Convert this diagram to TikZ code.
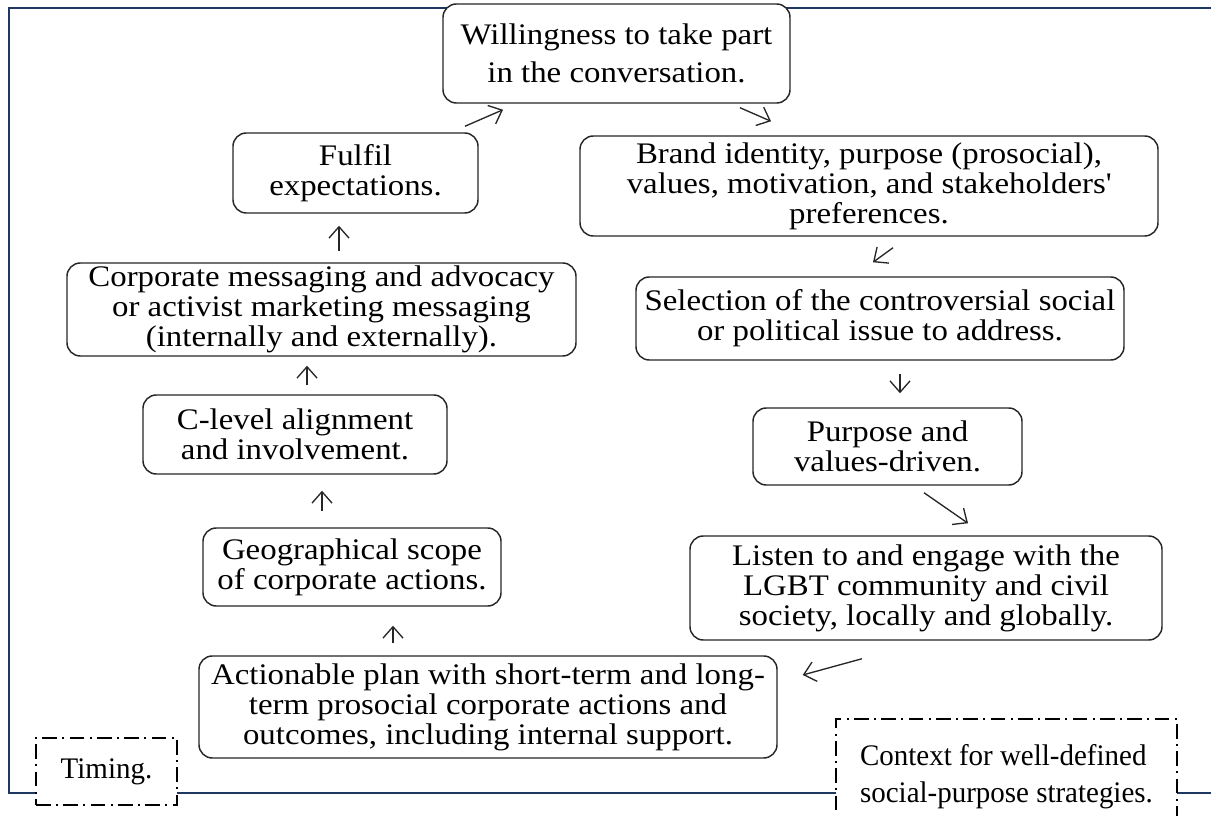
\documentclass[tikz,border=0pt]{standalone}
\usepackage{fontspec}
\setmainfont{Liberation Serif}[FakeStretch=1.1]
\newfontfamily\plainserif{Liberation Serif}[FakeStretch=0.97]
\usetikzlibrary{arrows.meta}
\definecolor{framenavy}{HTML}{1F3763}
\begin{document}
\begin{tikzpicture}[x=0.75pt,y=-0.75pt,
  wh/.style 2 args={minimum width=#1*0.75pt,minimum height=#2*0.75pt},
  txt/.style={font=\fontsize{22.4pt}{22.5pt}\selectfont},
  box/.style={draw=black!85,line width=1.1pt,rounded corners=10pt,fill=white,align=center,inner sep=0pt,txt},
  dbox/.style={draw=black,line width=1.1pt,dash pattern=on 11pt off 4pt on 1.5pt off 4pt,fill=white,inner sep=0pt,font=\plainserif\fontsize{22.4pt}{28pt}\selectfont},
  arr/.style={-{Straight Barb[length=8.5pt,width=15pt]},line width=1pt,draw=black!85}]
\useasboundingbox (0,0) rectangle (1211,816);
\clip (0,0) rectangle (1211,816);
\draw[framenavy,line width=2pt] (1220,8) -- (9,8) -- (9,793) -- (1220,793);

\node[box,wh={347}{99}] (will) at (616.5,53.5) {Willingness to take part\\[6pt]in the conversation.};
\node[box,wh={245}{80}] (fulfil) at (355.5,173) {Fulfil\\expectations.};
\node[box,wh={578}{100}] (brand) at (869,186) {Brand identity, purpose (prosocial),\\values, motivation, and stakeholders\textquotesingle\\preferences.};
\node[box,wh={509}{93}] (corp) at (321.5,309.5) {Corporate messaging and advocacy\\or activist marketing messaging\\(internally and externally).};
\node[box,wh={488}{83}] (sel) at (880,318.5) {Selection of the controversial social\\or political issue to address.};
\node[box,wh={304}{79}] (clevel) at (295,434.5) {C-level alignment\\and involvement.};
\node[box,wh={269}{77}] (purp) at (887.5,446.5) {Purpose and\\values-driven.};
\node[box,wh={298}{78}] (geo) at (352,567) {Geographical scope\\of corporate actions.};
\node[box,wh={472}{104}] (listen) at (926,588) {Listen to and engage with the\\LGBT community and civil\\society, locally and globally.};
\node[box,wh={578}{102}] (act) at (488,707) {Actionable plan with short-term and long-\\term prosocial corporate actions and\\outcomes, including internal support.};
\node[dbox,wh={141}{67}] (timing) at (106.5,771.5) {Timing.};
\node[dbox,wh={341}{116},align=left] (context) at (1006.5,777) {Context for well-defined\\social-purpose strategies.};

\draw[arr] ([shift={(109.5,-6)}]fulfil.north) -- ([shift={(-113.5,6)}]will.south);
\draw[arr] ([shift={(123.5,4)}]will.south) -- ([shift={(-98,-14)}]brand.north);
\draw[arr] ([shift={(24,11)}]brand.south) -- ([shift={(-7,-14)}]sel.north);
\draw[arr] ([shift={(20,13)}]sel.south) -- ([shift={(12.5,-14)}]purp.north);
\draw[arr] ([shift={(36.5,7)}]purp.south) -- ([shift={(42,-12)}]listen.north);
\draw[arr] ([shift={(-64,18)}]listen.south) -- ([shift={(25,-32)}]act.east);
\draw[arr] ([shift={(-95,-12)}]act.north) -- ([shift={(41,19)}]geo.south);
\draw[arr] ([shift={(-30,-16)}]geo.north) -- ([shift={(27,16)}]clevel.south);
\draw[arr] ([shift={(12,-9)}]clevel.north) -- ([shift={(-14.5,9)}]corp.south);
\draw[arr] ([shift={(17.5,-11)}]corp.north) -- ([shift={(-16.5,12)}]fulfil.south);
\end{tikzpicture}
\end{document}
